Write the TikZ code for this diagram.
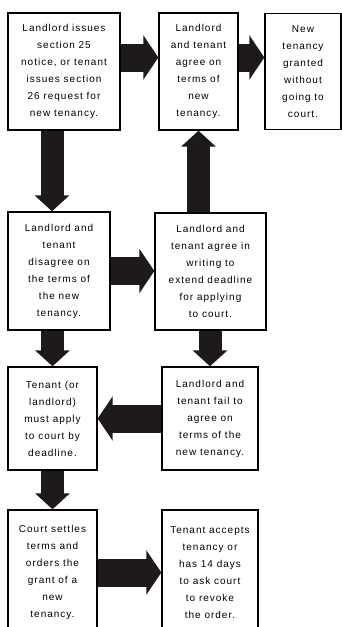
\documentclass[tikz,border=0pt]{standalone}
\usepackage{fontspec}
\setmainfont{Liberation Sans}[LetterSpace=10]
\usepackage{tikz}
\usetikzlibrary{arrows.meta}
\definecolor{arrowfill}{RGB}{30,26,28}
\tikzset{>=latex}
\tikzset{
  stepbox/.style={draw, line width=1.4pt, inner sep=0pt, align=center,
    font=\fontsize{10}{17}\selectfont},
  hblock/.style={color=arrowfill, line width=28pt,
    -{Triangle[width=44pt,length=15pt]}},
  vblock/.style={color=arrowfill, line width=23pt,
    -{Triangle[width=34pt,length=16pt]}}
}

\begin{document}
\begin{tikzpicture}[x=1pt, y=-1pt]
\path[use as bounding box, clip] (0,0) rectangle (342,627);

\node[stepbox, minimum width=112pt, minimum height=117pt] (notice) at (64,71.5)
  {Landlord issues\\ section 25\\ notice, or tenant\\ issues section\\ 26 request for\\ new tenancy.};
\node[stepbox, minimum width=79pt, minimum height=117pt] (agree) at (198.5,71.5)
  {Landlord\\ and tenant\\ agree on\\ terms of\\ new\\ tenancy.};
\node[stepbox, minimum width=76pt, minimum height=116pt] (granted) at (303,71.5)
  {New\\ tenancy\\ granted\\ without\\ going to\\ court.};
\node[stepbox, minimum width=102pt, minimum height=118pt] (disagree) at (59,271)
  {Landlord and\\ tenant\\ disagree on\\ the terms of\\ the new\\ tenancy.};
\node[stepbox, minimum width=111pt, minimum height=117pt] (extend) at (210.5,271.5)
  {Landlord and\\ tenant agree in\\ writing to\\ extend deadline\\ for applying\\ to court.};
\node[stepbox, minimum width=89pt, minimum height=103pt] (apply) at (52.5,418.5)
  {Tenant (or\\ landlord)\\ must apply\\ to court by\\ deadline.};
\node[stepbox, minimum width=96pt, minimum height=103pt] (fail) at (210,418.5)
  {Landlord and\\ tenant fail to\\ agree on\\ terms of the\\ new tenancy.};
\node[stepbox, minimum width=89pt, minimum height=125pt] (settles) at (52.5,572.5)
  {Court settles\\ terms and\\ orders the\\ grant of a\\ new\\ tenancy.};
\node[stepbox, minimum width=96pt, minimum height=125pt] (accepts) at (210,572.5)
  {Tenant accepts\\ tenancy or\\ has 14 days\\ to ask court\\ to revoke\\ the order.};

\path[hblock]
([yshift=14pt]notice.east) edge ([yshift=14pt]agree.west)
([yshift=14pt]agree.east) edge ([yshift=14pt]granted.west)
(disagree.east) edge (disagree.east -| extend.west)
(fail.west) edge (apply.east)
(settles.east) edge (accepts.west);
\path[vblock]
([xshift=-12pt]notice.south) edge ([xshift=-12pt]notice.south |- disagree.north)
(extend.north -| agree) edge (agree.south)
(disagree.south -| apply) edge (apply.north)
(extend.south -| fail) edge (fail.north)
(apply.south) edge (settles.north);
\end{tikzpicture}
\end{document}
